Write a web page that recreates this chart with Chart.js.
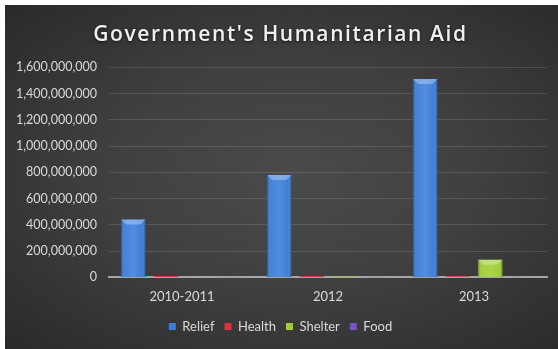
<!DOCTYPE html>
<html>
<head>
<meta charset="utf-8">
<script src="https://cdn.jsdelivr.net/npm/chart.js@4"></script>
<style>
  html, body { margin: 0; padding: 0; background: #ffffff; }
  #wrap {
    position: absolute;
    left: 5px;
    top: 5px;
    width: 553px;
    height: 344px;
    background: radial-gradient(ellipse at 52% 50%, #4a4a4a 0%, #404040 45%, #2a2a2a 100%);
  }
</style>
</head>
<body>
<div id="wrap"><canvas id="aidChart" width="553" height="344"></canvas></div>
<script>

const categories = ["2010-2011", "2012", "2013"];
const relief = [440000000, 780000000, 1510000000];
const health = [10000000, 10000000, 8000000];
const shelter = [0, 6000000, 135000000];
const food = [1000000, 1000000, 1000000];

const yMax = 1600000000;
const yStep = 200000000;

const textColor = "#d9d9d9";

// light stripe down the middle of each bar plus a bevelled cap on top
const bevel = {
    id: "bevel",
    afterDatasetsDraw(chart) {
        const ctx = chart.ctx;
        chart.data.datasets.forEach((ds, i) => {
            const meta = chart.getDatasetMeta(i);
            meta.data.forEach(bar => {
                const p = bar.getProps(["x", "y", "base", "width"], true);
                const h = p.base - p.y;
                if (h < 4) return;
                const left = p.x - p.width / 2;
                const right = p.x + p.width / 2;

                const g = ctx.createLinearGradient(left, 0, right, 0);
                g.addColorStop(0, "rgba(0,0,0,0.30)");
                g.addColorStop(0.15, "rgba(255,255,255,0.05)");
                g.addColorStop(0.5, "rgba(255,255,255,0.12)");
                g.addColorStop(0.85, "rgba(255,255,255,0.02)");
                g.addColorStop(1, "rgba(0,0,0,0.35)");
                ctx.save();
                ctx.fillStyle = g;
                ctx.fillRect(left, p.y, p.width, h);

                const cap = Math.min(5, h / 2);
                ctx.fillStyle = "rgba(255,255,255,0.30)";
                ctx.beginPath();
                ctx.moveTo(left, p.y);
                ctx.lineTo(right, p.y);
                ctx.lineTo(right - cap, p.y + cap);
                ctx.lineTo(left + cap, p.y + cap);
                ctx.closePath();
                ctx.fill();
                ctx.restore();
            });
        });
    }
};

const ctx = document.getElementById("aidChart").getContext("2d");

const chart = new Chart(ctx, {
    type: "bar",
    data: {
        labels: categories,
        datasets: [
            { label: "Relief", data: relief, backgroundColor: "#3b7dd8" },
            { label: "Health", data: health, backgroundColor: "#d7353b" },
            { label: "Shelter", data: shelter, backgroundColor: "#9fce34" },
            { label: "Food", data: food, backgroundColor: "#7d4fc4" }
        ]
    },
    options: {
        responsive: false,
        animation: false,
        devicePixelRatio: 1,
        datasets: {
            bar: {
                categoryPercentage: 0.89,
                barPercentage: 0.75,
                borderWidth: 0
            }
        },
        layout: {
            padding: { left: 9, right: 11, top: 0, bottom: 6 }
        },
        plugins: {
            title: {
                display: true,
                text: "Government's Humanitarian Aid",
                color: "#f0f0f0",
                font: { family: "'Open Sans'", size: 21, weight: 600 },
                padding: { top: 17, bottom: 20 }
            },
            legend: {
                position: "bottom",
                labels: {
                    color: textColor,
                    font: { family: "Lato", size: 13 },
                    boxWidth: 7,
                    boxHeight: 7,
                    padding: 10
                }
            },
            tooltip: { enabled: false }
        },
        scales: {
            x: {
                afterFit(scale) { scale.height -= 7; },
                grid: { display: false, drawTicks: false },
                border: { color: "#a6a6a6", width: 2 },
                ticks: { color: textColor, font: { family: "Lato", size: 13 }, padding: 12 }
            },
            y: {
                min: 0,
                max: yMax,
                afterFit(scale) { scale.width = 95; },
                grid: { color: "rgba(255,255,255,0.13)", drawTicks: false },
                border: { display: false },
                ticks: {
                    stepSize: yStep,
                    color: textColor,
                    font: { family: "Lato", size: 12.5 },
                    padding: 12,
                    callback: v => v.toLocaleString("en-US")
                }
            }
        }
    },
    plugins: [bevel]
});

// spaced-out title with a soft shadow
const titleBox = chart.titleBlock;
const drawTitle = titleBox.draw.bind(titleBox);
titleBox.draw = function () {
    const c = chart.ctx;
    c.save();
    c.letterSpacing = "1.6px";
    c.shadowColor = "rgba(0,0,0,0.7)";
    c.shadowBlur = 3;
    c.shadowOffsetY = 1;
    drawTitle();
    c.restore();
};
chart.draw();

</script>
</body>
</html>
